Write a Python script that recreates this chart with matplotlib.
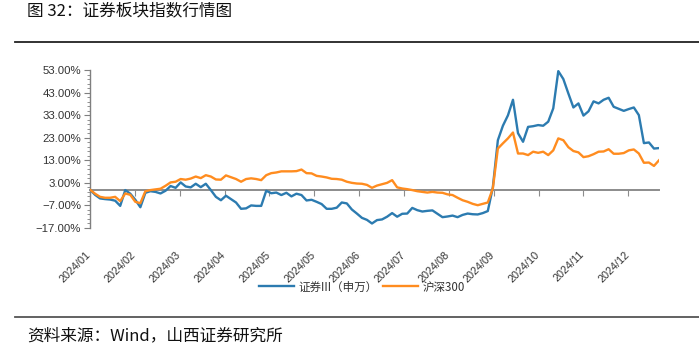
import numpy as np
import matplotlib
matplotlib.use('Agg')
import matplotlib.pyplot as plt
from matplotlib.ticker import FixedLocator, FuncFormatter
from matplotlib.lines import Line2D
import matplotlib.transforms as mtransforms

plt.rcParams['font.family'] = ['Noto Sans CJK SC', 'DejaVu Sans']

# 证券III（申万） cumulative return, %
securities = [
    0.0, -2.3, -3.9, -4.2, -4.4, -4.9, -7.2, -0.2, -1.8, -4.5,
    -7.8, -1.4, -0.7, -1.0, -1.7, -0.5, 1.6, 0.8, 3.2, 1.4,
    1.0, 2.6, 1.1, 2.6, -0.2, -3.2, -4.7, -2.7, -4.2, -5.7,
    -8.5, -8.3, -7.0, -7.2, -7.2, -0.5, -1.6, -1.3, -2.4, -1.4,
    -3.0, -1.8, -2.4, -4.8, -4.5, -5.4, -6.4, -8.5, -8.5, -8.0,
    -5.7, -6.1, -8.8, -10.6, -12.5, -13.4, -15.0, -13.5, -13.2, -12.0,
    -10.4, -12.0, -10.7, -10.6, -8.1, -9.1, -9.7, -9.4, -9.2, -10.7,
    -12.2, -11.9, -11.5, -12.2, -11.2, -10.6, -10.9, -11.0, -10.4, -9.5,
    1.0, 21.9, 28.3, 32.9, 39.8, 25.0, 21.2, 27.8, 28.1, 28.6,
    28.3, 30.1, 36.0, 52.5, 49.0, 42.6, 36.4, 38.2, 32.8, 34.7,
    39.1, 38.2, 39.8, 40.7, 36.7, 35.8, 34.9, 35.7, 36.4, 33.0,
    20.6, 20.9, 18.2, 18.4,
]

# 沪深300 cumulative return, %
csi300 = [
    0.0, -1.8, -3.2, -3.6, -3.6, -3.2, -5.1, -1.7, -2.3, -5.4,
    -6.0, -0.7, -0.2, 0.1, 0.4, 1.7, 3.2, 3.5, 4.7, 4.4,
    4.9, 5.8, 5.1, 6.4, 5.8, 4.5, 4.4, 6.3, 5.5, 4.7,
    3.5, 4.7, 5.0, 4.7, 4.2, 6.4, 7.3, 7.6, 8.1, 8.1,
    8.1, 8.2, 8.9, 7.3, 7.2, 6.1, 5.8, 5.4, 4.8, 4.7,
    4.4, 3.5, 3.0, 2.7, 2.6, 2.1, 0.8, 1.8, 2.4, 3.0,
    4.2, 1.0, 0.5, 0.2, -0.2, -0.7, -1.0, -1.3, -1.0, -1.3,
    -1.4, -2.1, -2.4, -3.6, -4.7, -5.4, -6.3, -6.9, -6.3, -5.7,
    0.5, 18.2, 20.5, 22.7, 25.3, 16.0, 16.0, 15.3, 16.8, 16.3,
    16.8, 15.3, 17.4, 22.7, 21.9, 18.8, 17.1, 16.5, 14.4, 14.8,
    15.7, 16.8, 16.9, 17.9, 15.9, 15.9, 16.2, 17.4, 17.8, 16.0,
    11.9, 12.0, 10.5, 13.0,
]

tick_labels = ['2024/01', '2024/02', '2024/03', '2024/04', '2024/05', '2024/05',
               '2024/06', '2024/07', '2024/08', '2024/09', '2024/10', '2024/11',
               '2024/12']
series_names = ['证券III（申万）', '沪深300']
n_days = 242
label_step = 19
y_min, y_max = -17, 53

blue = '#2C7BB0'
orange = '#FF8C1F'
grey = '#8C8C8C'

W, H = 699, 346
fig = plt.figure(figsize=(W / 100, H / 100), dpi=100)
ax = fig.add_axes([90 / W, (H - 228) / H, 569 / W, 158 / H])

days = np.linspace(0, n_days - 1, len(securities))
ax.plot(days, securities, color=blue, lw=1.7, label=series_names[0], zorder=3)
ax.plot(days, csi300, color=orange, lw=1.7, label=series_names[1], zorder=3)

ax.set_xlim(0, n_days - 1)
ax.set_ylim(y_min, y_max)

ax.yaxis.set_major_locator(FixedLocator(np.arange(y_min, y_max + 1, 10)))
ax.yaxis.set_minor_locator(FixedLocator(np.arange(y_min, y_max + 1, 2)))
ax.yaxis.set_major_formatter(FuncFormatter(lambda v, p: f'{v:.2f}%'.replace('-', '\u2212')))

for s in ['top', 'right']:
    ax.spines[s].set_visible(False)
ax.spines['left'].set_color('#7F7F7F')
ax.spines['left'].set_linewidth(1.0)
ax.spines['bottom'].set_position(('data', 0))
ax.spines['bottom'].set_color(grey)
ax.spines['bottom'].set_linewidth(1.4)
ax.spines['bottom'].set_zorder(2)

ticks = np.arange(0, n_days, label_step)[:len(tick_labels)]
ax.set_xticks(ticks)
ax.set_xticklabels(tick_labels, rotation=45, ha='right', va='top')

ax.tick_params(axis='y', which='major', direction='out', length=4, width=0.8,
               color='#7F7F7F', labelsize=8.2, labelcolor='#333333', pad=2.5)
ax.tick_params(axis='y', which='minor', direction='out', length=2.5, width=0.6,
               color='#7F7F7F')
ax.tick_params(axis='x', which='major', direction='out', length=4, width=0.8,
               color=grey, labelsize=7.8, labelcolor='#333333', pad=39)

for lab in ax.get_yticklabels():
    lab.set_fontfamily(['Liberation Sans', 'DejaVu Sans'])
offset = mtransforms.ScaledTranslation(3 / 100, 0, fig.dpi_scale_trans)
for lab in ax.get_xticklabels():
    lab.set_fontfamily(['Liberation Sans', 'DejaVu Sans'])
    lab.set_transform(lab.get_transform() + offset)

handles, labels = ax.get_legend_handles_labels()
fig.legend(handles, labels, loc='center', bbox_to_anchor=(362 / W, (H - 287) / H),
           ncol=2, frameon=False, fontsize=8.3, handlelength=3.1,
           handletextpad=0.4, columnspacing=0.4, labelcolor='#333333')

fig.text(27 / W, 1 - 11 / H, '图 32：证券板块指数行情图', fontsize=12,
         ha='left', va='center', color='#111111')
fig.add_artist(Line2D([15 / W, 1.0], [1 - 42 / H] * 2, color='#222222', lw=1.3))
fig.add_artist(Line2D([15 / W, 1.0], [(H - 317) / H] * 2, color='#555555', lw=1.3))
fig.text(27 / W, (H - 336) / H, '资料来源：Wind，山西证券研究所', fontsize=12,
         ha='left', va='center', color='#111111')

fig.savefig('out.png', dpi=100)
